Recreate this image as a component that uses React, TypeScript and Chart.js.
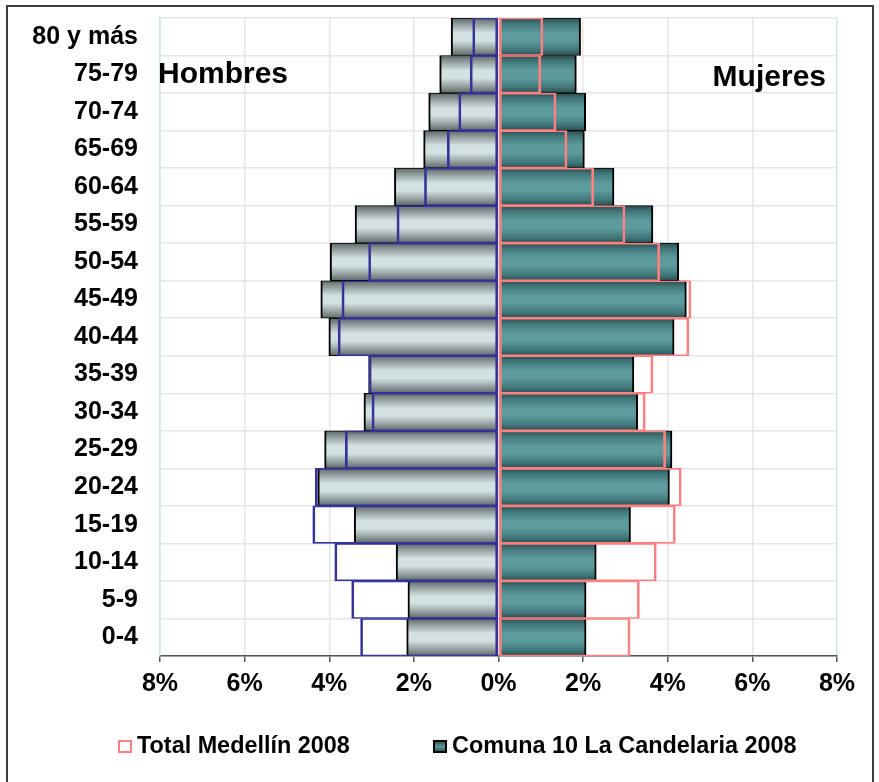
import React, { useEffect, useRef } from "react";
import { Chart, registerables } from "chart.js";

Chart.register(...registerables);

const ages = ["80 y más", "75-79", "70-74", "65-69", "60-64", "55-59", "50-54", "45-49", "40-44", "35-39", "30-34", "25-29", "20-24", "15-19", "10-14", "5-9", "0-4"];
const comunaMen = [1.12, 1.39, 1.65, 1.77, 2.46, 3.39, 3.98, 4.2, 4.01, 3.07, 3.18, 4.11, 4.27, 3.41, 2.42, 2.14, 2.17];
const medellinMen = [0.61, 0.67, 0.94, 1.21, 1.75, 2.4, 3.07, 3.7, 3.79, 3.06, 2.99, 3.62, 4.33, 4.39, 3.87, 3.47, 3.26];
const comunaWomen = [1.94, 1.84, 2.06, 2.03, 2.73, 3.65, 4.26, 4.44, 4.15, 3.2, 3.29, 4.1, 4.04, 3.12, 2.31, 2.07, 2.07];
const medellinWomen = [1.05, 1.0, 1.36, 1.62, 2.25, 2.99, 3.81, 4.55, 4.5, 3.65, 3.47, 3.95, 4.32, 4.18, 3.73, 3.33, 3.11];
const xTicks = [-8, -6, -4, -2, 0, 2, 4, 6, 8];
const sideLabels = ["Hombres", "Mujeres"];
const legendLabels = ["Total Medellín 2008", "Comuna 10 La Candelaria 2008"];

const FONT = '"Liberation Sans", Arial, Helvetica, sans-serif';

const greyStops: [number, string][] = [
  [0, "#5c6666"], [0.15, "#8c9898"], [0.4, "#d3e1e1"], [0.6, "#d3e1e1"], [0.85, "#8c9898"], [1, "#5c6666"],
];
const tealStops: [number, string][] = [
  [0, "#2c4b4d"], [0.15, "#40777a"], [0.4, "#5d9b9d"], [0.6, "#5d9b9d"], [0.85, "#40777a"], [1, "#2c4b4d"],
];

function barGradient(stops: [number, string][]) {
  return (c: any) => {
    const chart = c.chart;
    const area = chart.chartArea;
    if (!area || c.dataIndex === undefined || !chart.scales || !chart.scales.y) return stops[2][1];
    const ys = chart.scales.y;
    const mid = ys.getPixelForValue(c.dataIndex);
    const h = (area.bottom - area.top) / ages.length;
    const g = chart.ctx.createLinearGradient(0, mid - h / 2, 0, mid + h / 2);
    stops.forEach(([o, col]) => g.addColorStop(o, col));
    return g;
  };
}

const annotations = {
  id: "annotations",
  afterDraw(chart: any) {
    const { ctx, chartArea } = chart;
    ctx.save();
    ctx.fillStyle = "#000";
    ctx.textBaseline = "alphabetic";
    ctx.font = `bold 30px ${FONT}`;
    ctx.textAlign = "left";
    ctx.fillText(sideLabels[0], chartArea.left - 2, 83);
    ctx.textAlign = "right";
    ctx.fillText(sideLabels[1], chartArea.right - 11, 86);

    // legend
    ctx.font = `bold 23.4px ${FONT}`;
    ctx.textAlign = "left";
    const by = 741;
    ctx.fillStyle = "#fff";
    ctx.fillRect(119, by, 12, 11);
    ctx.strokeStyle = "#ff8080";
    ctx.lineWidth = 2;
    ctx.strokeRect(119, by, 12, 11);
    ctx.fillStyle = "#000";
    ctx.fillText(legendLabels[0], 137, 753);
    const g = ctx.createLinearGradient(0, by, 0, by + 11);
    g.addColorStop(0, "#2c4b4d");
    g.addColorStop(0.5, "#5d9b9d");
    g.addColorStop(1, "#2c4b4d");
    ctx.fillStyle = g;
    ctx.fillRect(434, by, 12, 11);
    ctx.strokeStyle = "#000";
    ctx.strokeRect(434, by, 12, 11);
    ctx.fillStyle = "#000";
    ctx.fillText(legendLabels[1], 452, 753);
    ctx.restore();
  },
};

export default function App() {
  const ref = useRef<HTMLCanvasElement>(null);
  useEffect(() => {
    if (!ref.current) return;
    Chart.defaults.font.family = FONT;
    const common = {
      grouped: false,
      barPercentage: 1,
      categoryPercentage: 1,
      borderSkipped: false as const,
      borderWidth: { top: 1, bottom: 1, left: 2, right: 2 },
    };
    const chart = new Chart(ref.current, {
      type: "bar",
      data: {
        labels: ages,
        datasets: [
          { ...common, label: legendLabels[0], data: medellinWomen, backgroundColor: "rgba(0,0,0,0)", borderColor: "#ff8080" },
          { ...common, label: legendLabels[0] + " H", data: medellinMen.map((v) => -v), backgroundColor: "rgba(0,0,0,0)", borderColor: "#333399" },
          { ...common, label: legendLabels[1], data: comunaWomen, backgroundColor: barGradient(tealStops) as any, borderColor: "#000" },
          { ...common, label: legendLabels[1] + " H", data: comunaMen.map((v) => -v), backgroundColor: barGradient(greyStops) as any, borderColor: "#000" },
        ],
      },
      options: {
        indexAxis: "y",
        responsive: true,
        maintainAspectRatio: false,
        animation: false,
        layout: { padding: { top: 18, right: 42, bottom: 83, left: 0 } },
        plugins: { legend: { display: false }, tooltip: { enabled: false } },
        scales: {
          x: {
            min: xTicks[0],
            max: xTicks[xTicks.length - 1],
            afterBuildTicks: (s: any) => {
              s.ticks = xTicks.map((v) => ({ value: v }));
            },
            afterFit: (s: any) => {
              s.height = 43;
              s.paddingLeft = 0;
              s.paddingRight = 0;
            },
            ticks: {
              stepSize: 2,
              callback: (v: any) => Math.abs(Number(v)) + "%",
              color: "#000",
              font: { size: 25, weight: "bold" },
              padding: 7,
              maxRotation: 0,
            },
            grid: {
              color: (c: any) => (c.tick && Math.abs(c.tick.value) === 8 ? "#d5e3e3" : "#e6e6e6"),
              lineWidth: 1.5,
              tickColor: "#555",
              tickLength: 6,
              tickWidth: 1.5,
            },
            border: { color: "#555", width: 1.5 },
          },
          y: {
            afterFit: (s: any) => {
              s.width = 160;
              s.paddingTop = 0;
              s.paddingBottom = 0;
            },
            ticks: { color: "#000", font: { size: 25, weight: "bold" }, padding: 22 },
            grid: { color: "#e4e6e6", lineWidth: 1.5, drawTicks: false, offset: true },
            border: { color: "#d5e3e3", width: 1.5 },
          },
        },
      } as any,
      plugins: [annotations],
    });
    return () => chart.destroy();
  }, []);

  return (
    <div style={{ position: "absolute", left: 0, top: 0, width: 879, height: 782, overflow: "hidden", background: "#fff" }}>
      <div style={{ position: "absolute", left: 0, top: 0, width: 879, height: 782 }}>
        <canvas ref={ref} />
      </div>
      <div
        style={{
          position: "absolute",
          left: 6,
          top: 5,
          width: 868,
          height: 800,
          border: "2px solid #3c3c3c",
          boxSizing: "border-box",
          pointerEvents: "none",
        }}
      />
    </div>
  );
}
